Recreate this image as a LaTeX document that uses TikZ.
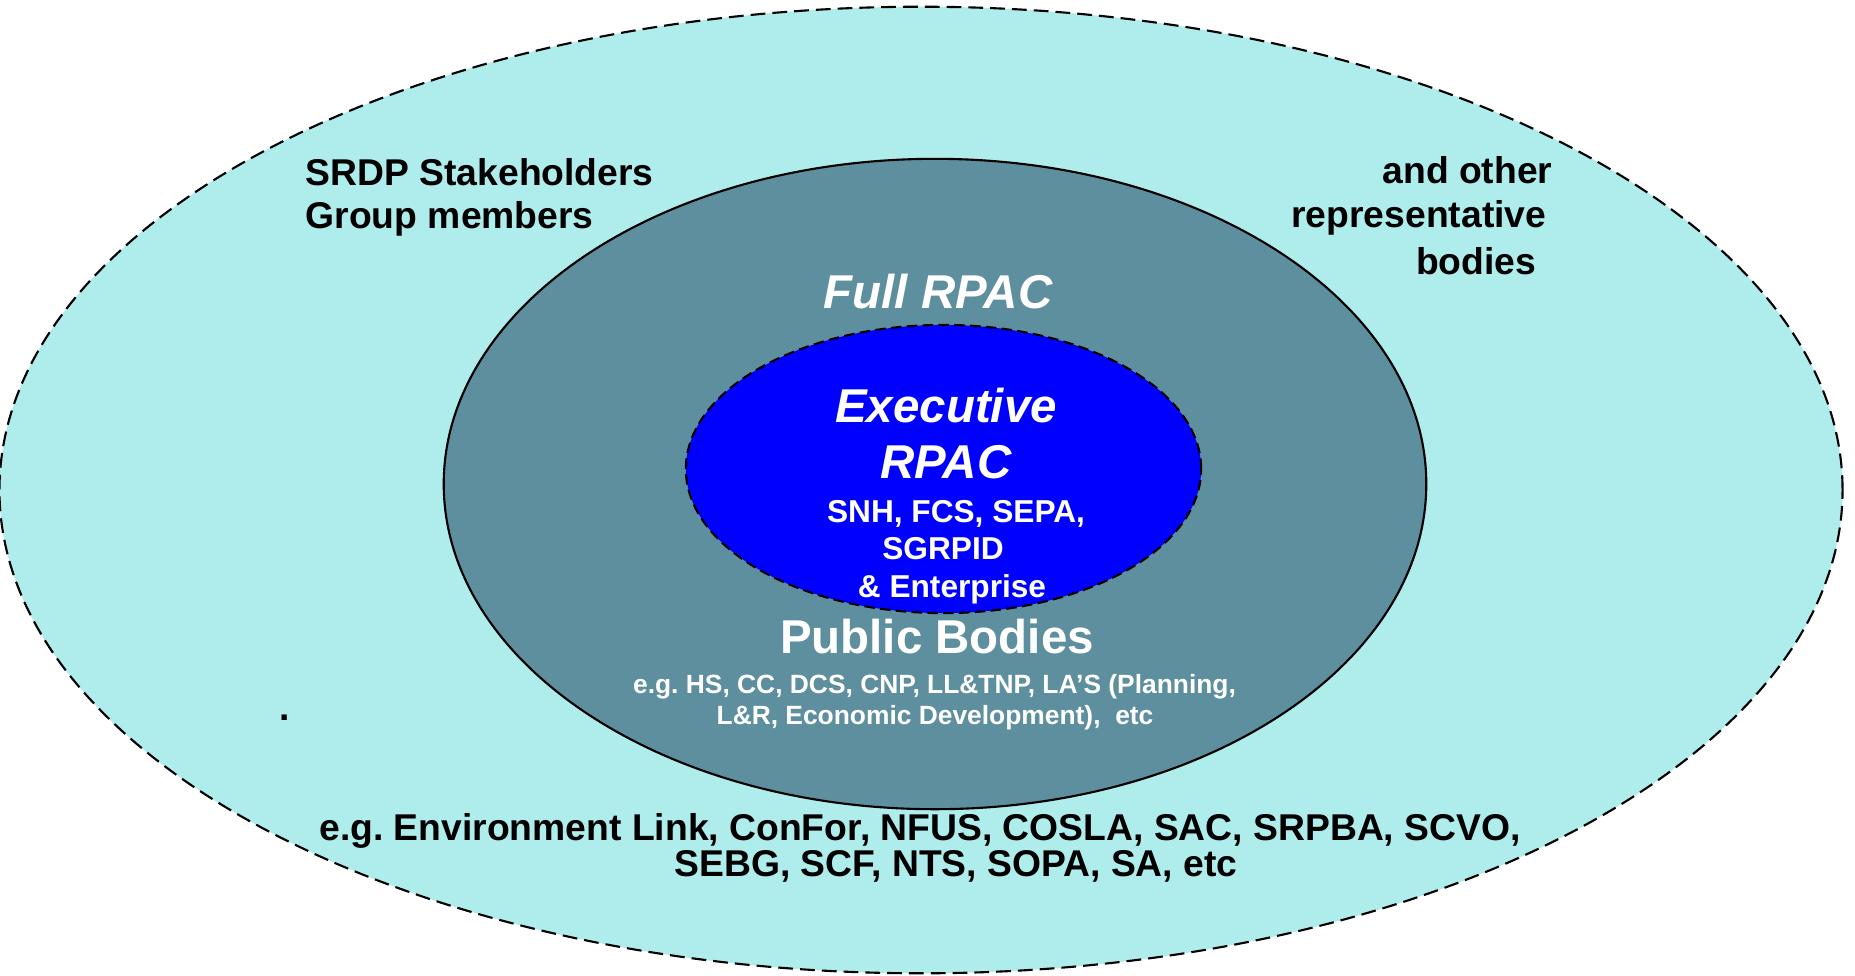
\documentclass[tikz,border=0pt]{standalone}
\usepackage{fontspec}
\setmainfont{Liberation Sans}
\frenchspacing
\definecolor{outerfill}{RGB}{175,236,236}
\definecolor{midfill}{RGB}{94,143,158}
\definecolor{exfill}{RGB}{0,0,255}
\tikzset{
  txt/.style={inner sep=0pt,anchor=base,font=\bfseries\fontsize{10.6}{12}\selectfont},
  wtxt/.style={txt,text=white,font=\bfseries\fontsize{9}{11}\selectfont},
  smtxt/.style={txt,text=white,font=\bfseries\fontsize{7.5}{9}\selectfont},
  bigtxt/.style={txt,text=white,font=\bfseries\fontsize{13.5}{16}\selectfont},
  bigit/.style={txt,text=white,font=\bfseries\itshape\fontsize{13.5}{16}\selectfont}
}

\begin{document}
\begin{tikzpicture}[x=0.01cm,y=-0.01cm]
\useasboundingbox (0,0) rectangle (1855,975);
\pgfmathsetmacro{\ra}{9.21}
\pgfmathsetmacro{\rb}{4.83}
\pgfmathsetmacro{\ma}{4.91}
\pgfmathsetmacro{\mb}{3.25}
\pgfmathsetmacro{\ea}{2.575}
\pgfmathsetmacro{\eb}{1.44}

% the three rings
\draw[fill=outerfill,line width=0.6pt,dash pattern=on 4.2pt off 2pt] (921,490) ellipse [x radius=\ra cm,y radius=\rb cm];
\draw[fill=midfill,line width=0.6pt] (935,484) ellipse [x radius=\ma cm,y radius=\mb cm];
\draw[fill=exfill,line width=0.6pt,dash pattern=on 3pt off 1.5pt] (943.5,469) ellipse [x radius=\ea cm,y radius=\eb cm];

\node[txt,anchor=base west] (srdp) at (305,185) {SRDP Stakeholders};
\node[txt,anchor=base west] (grp) at (305,228) {Group members};
\node[txt,anchor=base east] (other) at (1553,183) {and other};
\node[txt,anchor=base east] (repr) at (1547,227) {representative};
\node[txt,anchor=base east] (bod) at (1537,274) {bodies};

\node[bigit] (full) at (938,308) {Full RPAC};
\node[bigit] (exec) at (946,422) {Executive};
\node[bigit] (rpac) at (946,478) {RPAC};
\node[wtxt] (snh) at (956,522) {SNH, FCS, SEPA,};
\node[wtxt] (sgr) at (943,559) {SGRPID};
\node[wtxt] (ent) at (952,597) {\& Enterprise};

\node[bigtxt] (pub) at (937,653) {Public Bodies};
\node[smtxt] (egpa) at (934.5,693) {e.g. HS, CC, DCS, CNP, LL\&TNP, LA’S (Planning,};
\node[smtxt] (egpb) at (935,724) {L\&R, Economic Development),~ etc};

\node[txt] (dot) at (285,720) {.};
\node[txt] (egsa) at (920,840) {e.g. Environment Link, ConFor, NFUS, COSLA, SAC, SRPBA, SCVO,};
\node[txt] (egsb) at (956,876) {SEBG, SCF, NTS, SOPA, SA, etc};
\end{tikzpicture}
\end{document}
